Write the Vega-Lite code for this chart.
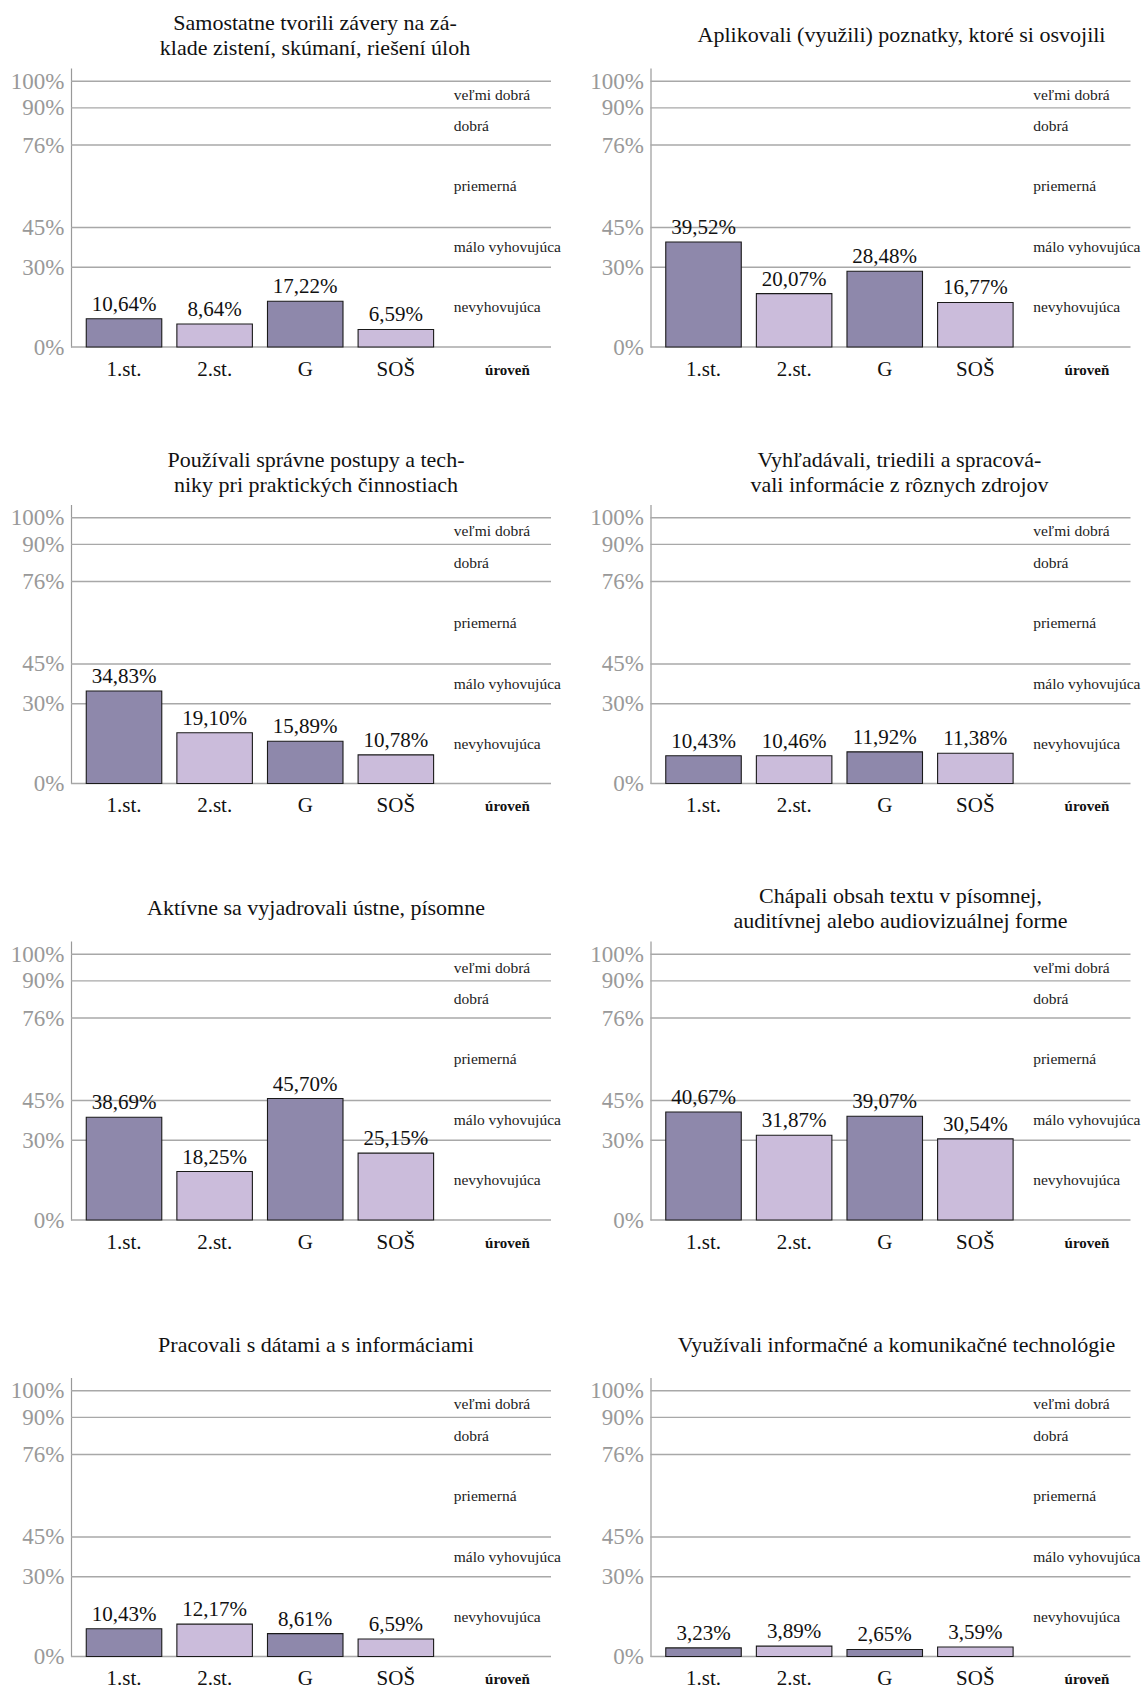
{
  "$schema": "https://vega.github.io/schema/vega-lite/v6.json",
  "padding": {"left": 10, "top": 12, "right": 2, "bottom": 5},
  "background": "white",
  "datasets": {
    "bars": [
      {"p": 1, "s": "1.st.", "v": 10.64}, {"p": 1, "s": "2.st.", "v": 8.64}, {"p": 1, "s": "G", "v": 17.22}, {"p": 1, "s": "SOŠ", "v": 6.59},
      {"p": 2, "s": "1.st.", "v": 39.52}, {"p": 2, "s": "2.st.", "v": 20.07}, {"p": 2, "s": "G", "v": 28.48}, {"p": 2, "s": "SOŠ", "v": 16.77},
      {"p": 3, "s": "1.st.", "v": 34.83}, {"p": 3, "s": "2.st.", "v": 19.10}, {"p": 3, "s": "G", "v": 15.89}, {"p": 3, "s": "SOŠ", "v": 10.78},
      {"p": 4, "s": "1.st.", "v": 10.43}, {"p": 4, "s": "2.st.", "v": 10.46}, {"p": 4, "s": "G", "v": 11.92}, {"p": 4, "s": "SOŠ", "v": 11.38},
      {"p": 5, "s": "1.st.", "v": 38.69}, {"p": 5, "s": "2.st.", "v": 18.25}, {"p": 5, "s": "G", "v": 45.70}, {"p": 5, "s": "SOŠ", "v": 25.15},
      {"p": 6, "s": "1.st.", "v": 40.67}, {"p": 6, "s": "2.st.", "v": 31.87}, {"p": 6, "s": "G", "v": 39.07}, {"p": 6, "s": "SOŠ", "v": 30.54},
      {"p": 7, "s": "1.st.", "v": 10.43}, {"p": 7, "s": "2.st.", "v": 12.17}, {"p": 7, "s": "G", "v": 8.61}, {"p": 7, "s": "SOŠ", "v": 6.59},
      {"p": 8, "s": "1.st.", "v": 3.23}, {"p": 8, "s": "2.st.", "v": 3.89}, {"p": 8, "s": "G", "v": 2.65}, {"p": 8, "s": "SOŠ", "v": 3.59}
    ],
    "grid": [{"t": 0}, {"t": 30}, {"t": 45}, {"t": 76}, {"t": 90}, {"t": 100}],
    "lev": [
      {"level": "veľmi dobrá", "mid": 95},
      {"level": "dobrá", "mid": 83},
      {"level": "priemerná", "mid": 60.5},
      {"level": "málo vyhovujúca", "mid": 37.5},
      {"level": "nevyhovujúca", "mid": 15}
    ]
  },
  "columns": 2,
  "spacing": {"row": 157.5, "column": 99.5},
  "bounds": "flush",
  "concat": [
    {
      "title": {"text": ["Samostatne tvorili závery na zá-", "klade zistení, skúmaní, riešení úloh"], "offset": 8, "dx": 4},
      "width": 480, "height": 279,
      "layer": [
        {"data": {"name": "grid"}, "mark": {"type": "rule", "color": "#a8a8a8", "strokeWidth": 1.4}, "encoding": {"y": {"field": "t", "type": "quantitative", "title": null, "scale": {"domain": [0, 105], "nice": false}, "axis": {"values": [0, 30, 45, 76, 90, 100]}}}},
        {"data": {"name": "bars"}, "transform": [{"filter": "datum.p == 1"}], "mark": {"type": "bar", "stroke": "#1a1a1a", "strokeWidth": 1.1}, "encoding": {"x": {"field": "s", "type": "nominal", "title": null, "sort": null, "scale": {"domain": ["1.st.", "2.st.", "G", "SOŠ", "úroveň"], "paddingInner": 0.1667, "paddingOuter": 0.232, "align": 0.363}}, "y": {"field": "v", "type": "quantitative", "title": null}, "color": {"field": "s", "type": "nominal", "legend": null, "scale": {"domain": ["1.st.", "2.st.", "G", "SOŠ"], "range": ["#8e88ab", "#cbbcdb", "#8e88ab", "#cbbcdb"]}}}},
        {"data": {"name": "bars"}, "transform": [{"filter": "datum.p == 1"}, {"calculate": "replace(format(datum.v, '.2f'), '.', ',') + '%'", "as": "lab"}], "mark": {"type": "text", "baseline": "alphabetic", "dy": -8, "fontSize": 21, "color": "#111"}, "encoding": {"x": {"field": "s", "type": "nominal", "title": null, "sort": null}, "y": {"field": "v", "type": "quantitative", "title": null}, "text": {"field": "lab"}}},
        {"mark": {"type": "rule", "color": "#999", "strokeWidth": 1.2}, "encoding": {"x": {"datum": "úroveň", "type": "nominal", "bandPosition": 0}, "y": {"datum": 100, "type": "quantitative"}, "y2": {"datum": -11.3}}},
        {"data": {"name": "lev"}, "mark": {"type": "text", "align": "left", "baseline": "middle", "dx": 5, "fontSize": 15.5, "color": "#222"}, "encoding": {"x": {"datum": "úroveň", "type": "nominal", "bandPosition": 0}, "y": {"field": "mid", "type": "quantitative", "title": null}, "text": {"field": "level"}}}
      ]
    },
    {
      "title": {"text": "Aplikovali (využili) poznatky, ktoré si osvojili", "offset": 21, "dx": 11},
      "width": 480, "height": 279,
      "layer": [
        {"data": {"name": "grid"}, "mark": {"type": "rule", "color": "#a8a8a8", "strokeWidth": 1.4}, "encoding": {"y": {"field": "t", "type": "quantitative", "title": null, "scale": {"domain": [0, 105], "nice": false}, "axis": {"values": [0, 30, 45, 76, 90, 100]}}}},
        {"data": {"name": "bars"}, "transform": [{"filter": "datum.p == 2"}], "mark": {"type": "bar", "stroke": "#1a1a1a", "strokeWidth": 1.1}, "encoding": {"x": {"field": "s", "type": "nominal", "title": null, "sort": null, "scale": {"domain": ["1.st.", "2.st.", "G", "SOŠ", "úroveň"], "paddingInner": 0.1667, "paddingOuter": 0.232, "align": 0.363}}, "y": {"field": "v", "type": "quantitative", "title": null}, "color": {"field": "s", "type": "nominal", "legend": null, "scale": {"domain": ["1.st.", "2.st.", "G", "SOŠ"], "range": ["#8e88ab", "#cbbcdb", "#8e88ab", "#cbbcdb"]}}}},
        {"data": {"name": "bars"}, "transform": [{"filter": "datum.p == 2"}, {"calculate": "replace(format(datum.v, '.2f'), '.', ',') + '%'", "as": "lab"}], "mark": {"type": "text", "baseline": "alphabetic", "dy": -8, "fontSize": 21, "color": "#111"}, "encoding": {"x": {"field": "s", "type": "nominal", "title": null, "sort": null}, "y": {"field": "v", "type": "quantitative", "title": null}, "text": {"field": "lab"}}},
        {"mark": {"type": "rule", "color": "#999", "strokeWidth": 1.2}, "encoding": {"x": {"datum": "úroveň", "type": "nominal", "bandPosition": 0}, "y": {"datum": 100, "type": "quantitative"}, "y2": {"datum": -11.3}}},
        {"data": {"name": "lev"}, "mark": {"type": "text", "align": "left", "baseline": "middle", "dx": 5, "fontSize": 15.5, "color": "#222"}, "encoding": {"x": {"datum": "úroveň", "type": "nominal", "bandPosition": 0}, "y": {"field": "mid", "type": "quantitative", "title": null}, "text": {"field": "level"}}}
      ]
    },
    {
      "title": {"text": ["Používali správne postupy a tech-", "niky pri praktických činnostiach"], "offset": 8, "dx": 5},
      "width": 480, "height": 279,
      "layer": [
        {"data": {"name": "grid"}, "mark": {"type": "rule", "color": "#a8a8a8", "strokeWidth": 1.4}, "encoding": {"y": {"field": "t", "type": "quantitative", "title": null, "scale": {"domain": [0, 105], "nice": false}, "axis": {"values": [0, 30, 45, 76, 90, 100]}}}},
        {"data": {"name": "bars"}, "transform": [{"filter": "datum.p == 3"}], "mark": {"type": "bar", "stroke": "#1a1a1a", "strokeWidth": 1.1}, "encoding": {"x": {"field": "s", "type": "nominal", "title": null, "sort": null, "scale": {"domain": ["1.st.", "2.st.", "G", "SOŠ", "úroveň"], "paddingInner": 0.1667, "paddingOuter": 0.232, "align": 0.363}}, "y": {"field": "v", "type": "quantitative", "title": null}, "color": {"field": "s", "type": "nominal", "legend": null, "scale": {"domain": ["1.st.", "2.st.", "G", "SOŠ"], "range": ["#8e88ab", "#cbbcdb", "#8e88ab", "#cbbcdb"]}}}},
        {"data": {"name": "bars"}, "transform": [{"filter": "datum.p == 3"}, {"calculate": "replace(format(datum.v, '.2f'), '.', ',') + '%'", "as": "lab"}], "mark": {"type": "text", "baseline": "alphabetic", "dy": -8, "fontSize": 21, "color": "#111"}, "encoding": {"x": {"field": "s", "type": "nominal", "title": null, "sort": null}, "y": {"field": "v", "type": "quantitative", "title": null}, "text": {"field": "lab"}}},
        {"mark": {"type": "rule", "color": "#999", "strokeWidth": 1.2}, "encoding": {"x": {"datum": "úroveň", "type": "nominal", "bandPosition": 0}, "y": {"datum": 100, "type": "quantitative"}, "y2": {"datum": -11.3}}},
        {"data": {"name": "lev"}, "mark": {"type": "text", "align": "left", "baseline": "middle", "dx": 5, "fontSize": 15.5, "color": "#222"}, "encoding": {"x": {"datum": "úroveň", "type": "nominal", "bandPosition": 0}, "y": {"field": "mid", "type": "quantitative", "title": null}, "text": {"field": "level"}}}
      ]
    },
    {
      "title": {"text": ["Vyhľadávali, triedili a spracová-", "vali informácie z rôznych zdrojov"], "offset": 8, "dx": 9},
      "width": 480, "height": 279,
      "layer": [
        {"data": {"name": "grid"}, "mark": {"type": "rule", "color": "#a8a8a8", "strokeWidth": 1.4}, "encoding": {"y": {"field": "t", "type": "quantitative", "title": null, "scale": {"domain": [0, 105], "nice": false}, "axis": {"values": [0, 30, 45, 76, 90, 100]}}}},
        {"data": {"name": "bars"}, "transform": [{"filter": "datum.p == 4"}], "mark": {"type": "bar", "stroke": "#1a1a1a", "strokeWidth": 1.1}, "encoding": {"x": {"field": "s", "type": "nominal", "title": null, "sort": null, "scale": {"domain": ["1.st.", "2.st.", "G", "SOŠ", "úroveň"], "paddingInner": 0.1667, "paddingOuter": 0.232, "align": 0.363}}, "y": {"field": "v", "type": "quantitative", "title": null}, "color": {"field": "s", "type": "nominal", "legend": null, "scale": {"domain": ["1.st.", "2.st.", "G", "SOŠ"], "range": ["#8e88ab", "#cbbcdb", "#8e88ab", "#cbbcdb"]}}}},
        {"data": {"name": "bars"}, "transform": [{"filter": "datum.p == 4"}, {"calculate": "replace(format(datum.v, '.2f'), '.', ',') + '%'", "as": "lab"}], "mark": {"type": "text", "baseline": "alphabetic", "dy": -8, "fontSize": 21, "color": "#111"}, "encoding": {"x": {"field": "s", "type": "nominal", "title": null, "sort": null}, "y": {"field": "v", "type": "quantitative", "title": null}, "text": {"field": "lab"}}},
        {"mark": {"type": "rule", "color": "#999", "strokeWidth": 1.2}, "encoding": {"x": {"datum": "úroveň", "type": "nominal", "bandPosition": 0}, "y": {"datum": 100, "type": "quantitative"}, "y2": {"datum": -11.3}}},
        {"data": {"name": "lev"}, "mark": {"type": "text", "align": "left", "baseline": "middle", "dx": 5, "fontSize": 15.5, "color": "#222"}, "encoding": {"x": {"datum": "úroveň", "type": "nominal", "bandPosition": 0}, "y": {"field": "mid", "type": "quantitative", "title": null}, "text": {"field": "level"}}}
      ]
    },
    {
      "title": {"text": "Aktívne sa vyjadrovali ústne, písomne", "offset": 21, "dx": 5},
      "width": 480, "height": 279,
      "layer": [
        {"data": {"name": "grid"}, "mark": {"type": "rule", "color": "#a8a8a8", "strokeWidth": 1.4}, "encoding": {"y": {"field": "t", "type": "quantitative", "title": null, "scale": {"domain": [0, 105], "nice": false}, "axis": {"values": [0, 30, 45, 76, 90, 100]}}}},
        {"data": {"name": "bars"}, "transform": [{"filter": "datum.p == 5"}], "mark": {"type": "bar", "stroke": "#1a1a1a", "strokeWidth": 1.1}, "encoding": {"x": {"field": "s", "type": "nominal", "title": null, "sort": null, "scale": {"domain": ["1.st.", "2.st.", "G", "SOŠ", "úroveň"], "paddingInner": 0.1667, "paddingOuter": 0.232, "align": 0.363}}, "y": {"field": "v", "type": "quantitative", "title": null}, "color": {"field": "s", "type": "nominal", "legend": null, "scale": {"domain": ["1.st.", "2.st.", "G", "SOŠ"], "range": ["#8e88ab", "#cbbcdb", "#8e88ab", "#cbbcdb"]}}}},
        {"data": {"name": "bars"}, "transform": [{"filter": "datum.p == 5"}, {"calculate": "replace(format(datum.v, '.2f'), '.', ',') + '%'", "as": "lab"}], "mark": {"type": "text", "baseline": "alphabetic", "dy": -8, "fontSize": 21, "color": "#111"}, "encoding": {"x": {"field": "s", "type": "nominal", "title": null, "sort": null}, "y": {"field": "v", "type": "quantitative", "title": null}, "text": {"field": "lab"}}},
        {"mark": {"type": "rule", "color": "#999", "strokeWidth": 1.2}, "encoding": {"x": {"datum": "úroveň", "type": "nominal", "bandPosition": 0}, "y": {"datum": 100, "type": "quantitative"}, "y2": {"datum": -11.3}}},
        {"data": {"name": "lev"}, "mark": {"type": "text", "align": "left", "baseline": "middle", "dx": 5, "fontSize": 15.5, "color": "#222"}, "encoding": {"x": {"datum": "úroveň", "type": "nominal", "bandPosition": 0}, "y": {"field": "mid", "type": "quantitative", "title": null}, "text": {"field": "level"}}}
      ]
    },
    {
      "title": {"text": ["Chápali obsah textu v písomnej,", "auditívnej alebo audiovizuálnej forme"], "offset": 8, "dx": 10},
      "width": 480, "height": 279,
      "layer": [
        {"data": {"name": "grid"}, "mark": {"type": "rule", "color": "#a8a8a8", "strokeWidth": 1.4}, "encoding": {"y": {"field": "t", "type": "quantitative", "title": null, "scale": {"domain": [0, 105], "nice": false}, "axis": {"values": [0, 30, 45, 76, 90, 100]}}}},
        {"data": {"name": "bars"}, "transform": [{"filter": "datum.p == 6"}], "mark": {"type": "bar", "stroke": "#1a1a1a", "strokeWidth": 1.1}, "encoding": {"x": {"field": "s", "type": "nominal", "title": null, "sort": null, "scale": {"domain": ["1.st.", "2.st.", "G", "SOŠ", "úroveň"], "paddingInner": 0.1667, "paddingOuter": 0.232, "align": 0.363}}, "y": {"field": "v", "type": "quantitative", "title": null}, "color": {"field": "s", "type": "nominal", "legend": null, "scale": {"domain": ["1.st.", "2.st.", "G", "SOŠ"], "range": ["#8e88ab", "#cbbcdb", "#8e88ab", "#cbbcdb"]}}}},
        {"data": {"name": "bars"}, "transform": [{"filter": "datum.p == 6"}, {"calculate": "replace(format(datum.v, '.2f'), '.', ',') + '%'", "as": "lab"}], "mark": {"type": "text", "baseline": "alphabetic", "dy": -8, "fontSize": 21, "color": "#111"}, "encoding": {"x": {"field": "s", "type": "nominal", "title": null, "sort": null}, "y": {"field": "v", "type": "quantitative", "title": null}, "text": {"field": "lab"}}},
        {"mark": {"type": "rule", "color": "#999", "strokeWidth": 1.2}, "encoding": {"x": {"datum": "úroveň", "type": "nominal", "bandPosition": 0}, "y": {"datum": 100, "type": "quantitative"}, "y2": {"datum": -11.3}}},
        {"data": {"name": "lev"}, "mark": {"type": "text", "align": "left", "baseline": "middle", "dx": 5, "fontSize": 15.5, "color": "#222"}, "encoding": {"x": {"datum": "úroveň", "type": "nominal", "bandPosition": 0}, "y": {"field": "mid", "type": "quantitative", "title": null}, "text": {"field": "level"}}}
      ]
    },
    {
      "title": {"text": "Pracovali s dátami a s informáciami", "offset": 21, "dx": 5},
      "width": 480, "height": 279,
      "layer": [
        {"data": {"name": "grid"}, "mark": {"type": "rule", "color": "#a8a8a8", "strokeWidth": 1.4}, "encoding": {"y": {"field": "t", "type": "quantitative", "title": null, "scale": {"domain": [0, 105], "nice": false}, "axis": {"values": [0, 30, 45, 76, 90, 100]}}}},
        {"data": {"name": "bars"}, "transform": [{"filter": "datum.p == 7"}], "mark": {"type": "bar", "stroke": "#1a1a1a", "strokeWidth": 1.1}, "encoding": {"x": {"field": "s", "type": "nominal", "title": null, "sort": null, "scale": {"domain": ["1.st.", "2.st.", "G", "SOŠ", "úroveň"], "paddingInner": 0.1667, "paddingOuter": 0.232, "align": 0.363}}, "y": {"field": "v", "type": "quantitative", "title": null}, "color": {"field": "s", "type": "nominal", "legend": null, "scale": {"domain": ["1.st.", "2.st.", "G", "SOŠ"], "range": ["#8e88ab", "#cbbcdb", "#8e88ab", "#cbbcdb"]}}}},
        {"data": {"name": "bars"}, "transform": [{"filter": "datum.p == 7"}, {"calculate": "replace(format(datum.v, '.2f'), '.', ',') + '%'", "as": "lab"}], "mark": {"type": "text", "baseline": "alphabetic", "dy": -8, "fontSize": 21, "color": "#111"}, "encoding": {"x": {"field": "s", "type": "nominal", "title": null, "sort": null}, "y": {"field": "v", "type": "quantitative", "title": null}, "text": {"field": "lab"}}},
        {"mark": {"type": "rule", "color": "#999", "strokeWidth": 1.2}, "encoding": {"x": {"datum": "úroveň", "type": "nominal", "bandPosition": 0}, "y": {"datum": 100, "type": "quantitative"}, "y2": {"datum": -11.3}}},
        {"data": {"name": "lev"}, "mark": {"type": "text", "align": "left", "baseline": "middle", "dx": 5, "fontSize": 15.5, "color": "#222"}, "encoding": {"x": {"datum": "úroveň", "type": "nominal", "bandPosition": 0}, "y": {"field": "mid", "type": "quantitative", "title": null}, "text": {"field": "level"}}}
      ]
    },
    {
      "title": {"text": "Využívali informačné a komunikačné technológie", "offset": 21, "dx": 6},
      "width": 480, "height": 279,
      "layer": [
        {"data": {"name": "grid"}, "mark": {"type": "rule", "color": "#a8a8a8", "strokeWidth": 1.4}, "encoding": {"y": {"field": "t", "type": "quantitative", "title": null, "scale": {"domain": [0, 105], "nice": false}, "axis": {"values": [0, 30, 45, 76, 90, 100]}}}},
        {"data": {"name": "bars"}, "transform": [{"filter": "datum.p == 8"}], "mark": {"type": "bar", "stroke": "#1a1a1a", "strokeWidth": 1.1}, "encoding": {"x": {"field": "s", "type": "nominal", "title": null, "sort": null, "scale": {"domain": ["1.st.", "2.st.", "G", "SOŠ", "úroveň"], "paddingInner": 0.1667, "paddingOuter": 0.232, "align": 0.363}}, "y": {"field": "v", "type": "quantitative", "title": null}, "color": {"field": "s", "type": "nominal", "legend": null, "scale": {"domain": ["1.st.", "2.st.", "G", "SOŠ"], "range": ["#8e88ab", "#cbbcdb", "#8e88ab", "#cbbcdb"]}}}},
        {"data": {"name": "bars"}, "transform": [{"filter": "datum.p == 8"}, {"calculate": "replace(format(datum.v, '.2f'), '.', ',') + '%'", "as": "lab"}], "mark": {"type": "text", "baseline": "alphabetic", "dy": -8, "fontSize": 21, "color": "#111"}, "encoding": {"x": {"field": "s", "type": "nominal", "title": null, "sort": null}, "y": {"field": "v", "type": "quantitative", "title": null}, "text": {"field": "lab"}}},
        {"mark": {"type": "rule", "color": "#999", "strokeWidth": 1.2}, "encoding": {"x": {"datum": "úroveň", "type": "nominal", "bandPosition": 0}, "y": {"datum": 100, "type": "quantitative"}, "y2": {"datum": -11.3}}},
        {"data": {"name": "lev"}, "mark": {"type": "text", "align": "left", "baseline": "middle", "dx": 5, "fontSize": 15.5, "color": "#222"}, "encoding": {"x": {"datum": "úroveň", "type": "nominal", "bandPosition": 0}, "y": {"field": "mid", "type": "quantitative", "title": null}, "text": {"field": "level"}}}
      ]
    }
  ],
  "config": {
    "font": "Liberation Serif",
    "view": {"stroke": null},
    "title": {"fontSize": 22, "fontWeight": "normal", "lineHeight": 25, "color": "#111", "font": "Liberation Serif"},
    "axisY": {
      "labelExpr": "datum.value + '%'",
      "ticks": false,
      "grid": false,
      "domain": true,
      "domainColor": "#999",
      "domainWidth": 1.2,
      "labelColor": "#999",
      "labelFontSize": 23,
      "labelPadding": 7,
      "labelBaseline": "middle"
    },
    "axisX": {
      "domain": false,
      "ticks": false,
      "grid": false,
      "labelAngle": 0,
      "labelColor": "#111",
      "labelFontSize": {"condition": {"test": "datum.value === 'úroveň'", "value": 15}, "value": 21},
      "labelFontWeight": {"condition": {"test": "datum.value === 'úroveň'", "value": "bold"}, "value": "normal"},
      "labelOffset": {"condition": {"test": "datum.value === 'úroveň'", "value": 21}, "value": 0},
      "labelPadding": {"condition": {"test": "datum.value === 'úroveň'", "value": 15}, "value": 11}
    }
  }
}
